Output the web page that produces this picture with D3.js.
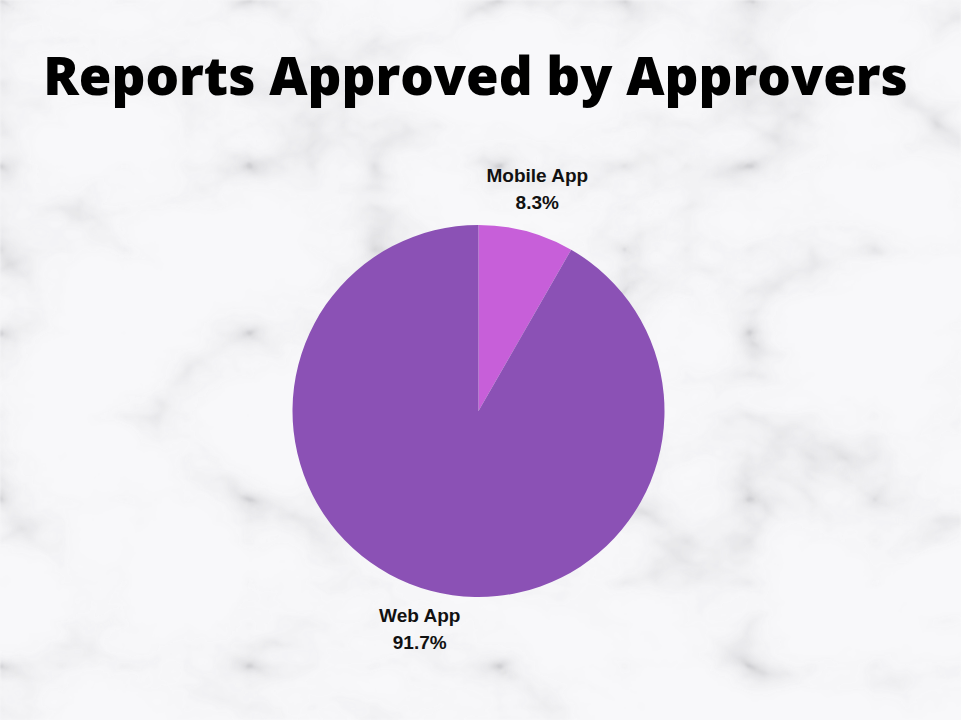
<!DOCTYPE html>
<html>
<head>
<meta charset="utf-8">
<script src="https://cdn.jsdelivr.net/npm/d3@7"></script>
<style>
html,body{margin:0;padding:0;background:#f6f6f8;}
svg{display:block;}
</style>
</head>
<body>
<svg id="chart" width="961" height="720"></svg>
<script>
const title = "Reports Approved by Approvers";
const categories = ["Mobile App", "Web App"];
const values = [8.3, 91.7];
const colors = ["#C75FD9", "#8B51B5"];

const W = 961, H = 720;
const svg = d3.select("#chart");

// marble-like background texture
const defs = svg.append("defs");
const f = defs.append("filter").attr("id","marble").attr("x",0).attr("y",0).attr("width","100%").attr("height","100%");
f.append("feTurbulence").attr("type","turbulence").attr("baseFrequency","0.004 0.006").attr("numOctaves",5).attr("seed",7).attr("result","t");
f.append("feColorMatrix").attr("in","t").attr("type","matrix")
  .attr("values","0 0 0 0 0  0 0 0 0 0  0 0 0 0 0  1.1 0.3 0 0 0").attr("result","a");
const ct = f.append("feComponentTransfer").attr("in","a").attr("result","v");
ct.append("feFuncA").attr("type","table").attr("tableValues","0.32 0.14 0.05 0.01 0 0 0 0");
f.append("feFlood").attr("flood-color","#77777d").attr("result","c");
f.append("feComposite").attr("in","c").attr("in2","v").attr("operator","in").attr("result","veins");
f.append("feGaussianBlur").attr("in","veins").attr("stdDeviation",1.2);

svg.append("rect").attr("width",W).attr("height",H).attr("fill","#f8f8fa");
svg.append("rect").attr("width",W).attr("height",H).attr("fill","#fff").attr("filter","url(#marble)");

// title
const t = svg.append("text")
  .attr("x", 475.5).attr("y", 95)
  .attr("text-anchor","middle")
  .attr("font-family","'Open Sans', sans-serif")
  .attr("font-weight",800)
  .attr("font-size",53)
  .attr("fill","#000")
  .text(title);
const tw = t.node().getComputedTextLength();
t.attr("font-size", 53 * 865 / tw);

// pie
const cx = 478.5, cy = 411, R = 186;
const data = categories.map((c,i)=>({cat:c, value:values[i], color:colors[i]}));
const pie = d3.pie().value(d=>d.value).sort(null);
const arc = d3.arc().innerRadius(0).outerRadius(R);
const labelArc = d3.arc().innerRadius(228).outerRadius(228);
const g = svg.append("g").attr("transform",`translate(${cx},${cy})`);
const arcs = pie(data);
g.selectAll("path").data(arcs).join("path")
  .attr("d", arc).attr("fill", d=>d.data.color);

const lab = g.selectAll("g.lab").data(arcs).join("g").attr("class","lab")
  .attr("transform", d=>{const p=labelArc.centroid(d); return `translate(${p[0]},${p[1]})`;});
lab.append("text").attr("text-anchor","middle").attr("y",-9)
  .attr("font-family","'Liberation Sans', Arial, sans-serif").attr("font-weight","bold").attr("font-size",19)
  .attr("fill","#111").text(d=>d.data.cat);
lab.append("text").attr("text-anchor","middle").attr("y",18)
  .attr("font-family","'Liberation Sans', Arial, sans-serif").attr("font-weight","bold").attr("font-size",19)
  .attr("fill","#111").text(d=>d.data.value.toFixed(1)+"%");
</script>
</body>
</html>
